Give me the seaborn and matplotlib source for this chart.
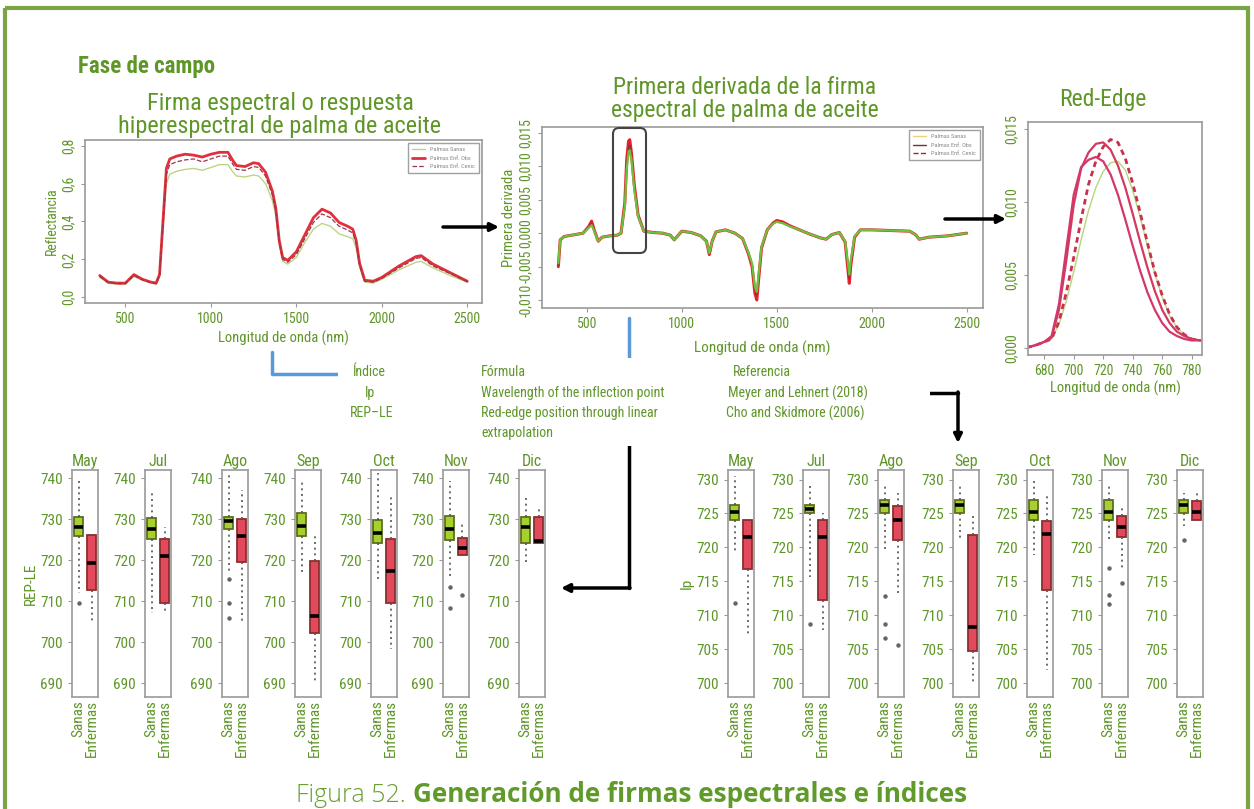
import matplotlib
matplotlib.use('Agg')
import matplotlib.pyplot as plt
from matplotlib import font_manager
from matplotlib.patches import FancyBboxPatch, Rectangle
from matplotlib.lines import Line2D
import seaborn as sns

# ---------------- data ----------------
# firma espectral (reflectancia)
wl = [350, 400, 450, 500, 550, 600, 650, 680, 700, 720, 740, 760, 800, 850, 900, 950, 1000,
      1050, 1100, 1130, 1150, 1200, 1250, 1280, 1320, 1360, 1380, 1400, 1420, 1450, 1500,
      1550, 1600, 1650, 1700, 1750, 1800, 1830, 1850, 1870, 1900, 1950, 2000, 2100, 2200,
      2230, 2300, 2400, 2500]
refl_sanas = [0.105, 0.075, 0.07, 0.07, 0.11, 0.09, 0.075, 0.07, 0.11, 0.36, 0.60, 0.65, 0.665,
              0.675, 0.68, 0.67, 0.685, 0.70, 0.70, 0.66, 0.64, 0.635, 0.645, 0.64, 0.60, 0.51,
              0.43, 0.28, 0.19, 0.175, 0.21, 0.29, 0.36, 0.39, 0.375, 0.335, 0.32, 0.31, 0.26,
              0.16, 0.08, 0.075, 0.095, 0.145, 0.185, 0.19, 0.155, 0.115, 0.08]
refl_obs = [0.115, 0.08, 0.075, 0.075, 0.12, 0.095, 0.08, 0.075, 0.12, 0.40, 0.68, 0.73, 0.745,
            0.755, 0.75, 0.74, 0.755, 0.765, 0.765, 0.72, 0.695, 0.69, 0.71, 0.705, 0.66, 0.56,
            0.47, 0.30, 0.21, 0.195, 0.24, 0.33, 0.42, 0.465, 0.445, 0.395, 0.375, 0.36, 0.30,
            0.18, 0.09, 0.085, 0.105, 0.165, 0.215, 0.22, 0.175, 0.13, 0.085]
refl_cenic = [0.11, 0.078, 0.072, 0.072, 0.115, 0.092, 0.078, 0.072, 0.115, 0.38, 0.65, 0.70,
              0.715, 0.725, 0.73, 0.715, 0.73, 0.745, 0.745, 0.70, 0.675, 0.67, 0.69, 0.685,
              0.64, 0.54, 0.455, 0.29, 0.20, 0.185, 0.225, 0.31, 0.395, 0.44, 0.42, 0.375, 0.355,
              0.34, 0.285, 0.17, 0.085, 0.08, 0.10, 0.155, 0.205, 0.21, 0.165, 0.125, 0.082]

# primera derivada
wl_d = [350, 360, 380, 420, 480, 510, 525, 540, 560, 580, 620, 660, 680, 700, 710, 720, 726, 735,
        750, 770, 800, 850, 900, 940, 960, 1000, 1050, 1100, 1130, 1145, 1160, 1180, 1230, 1280,
        1320, 1350, 1370, 1385, 1395, 1405, 1420, 1450, 1480, 1500, 1530, 1570, 1620, 1680,
        1730, 1760, 1790, 1830, 1860, 1875, 1882, 1890, 1910, 1940, 2000, 2100, 2200, 2230,
        2250, 2300, 2400, 2500]
der_sanas = [-0.0045, -0.0010, -0.0005, -0.0003, 0.0, 0.0008, 0.0012, 0.0003, -0.0012, -0.0006,
             -0.0004, -0.0003, 0.0, 0.0040, 0.0095, 0.0122, 0.0124, 0.0110, 0.0065, 0.0025,
             0.0003, 0.0001, 0.0, -0.0003, -0.0010, 0.0003, 0.0001, -0.0004, -0.0012, -0.0030,
             -0.0012, 0.0002, 0.0005, 0.0, -0.0008, -0.0028, -0.0045, -0.0080, -0.0088, -0.0060,
             -0.0020, 0.0005, 0.0014, 0.0017, 0.0015, 0.0010, 0.0005, -0.0002, -0.0007, -0.0009,
             -0.0002, 0.0001, -0.0012, -0.0045, -0.0062, -0.0040, -0.0005, 0.0005, 0.0005,
             0.0004, 0.0003, -0.0002, -0.0009, -0.0006, -0.0004, 0.0]
der_obs = [-0.0050, -0.0010, -0.0005, -0.0003, 0.0, 0.0010, 0.0018, 0.0004, -0.0012, -0.0006,
           -0.0004, -0.0003, 0.0, 0.0045, 0.0110, 0.0138, 0.0140, 0.0120, 0.0072, 0.0027,
           0.0003, 0.0001, 0.0, -0.0003, -0.0010, 0.0003, 0.0001, -0.0004, -0.0012, -0.0032,
           -0.0012, 0.0002, 0.0005, 0.0, -0.0008, -0.0030, -0.0050, -0.0090, -0.0100, -0.0068,
           -0.0022, 0.0005, 0.0015, 0.0019, 0.0017, 0.0011, 0.0005, -0.0002, -0.0007, -0.0009,
           -0.0002, 0.0001, -0.0013, -0.0055, -0.0075, -0.0048, -0.0006, 0.0005, 0.0005,
           0.0004, 0.0003, -0.0002, -0.0009, -0.0006, -0.0004, 0.0]
der_cenic = [-0.0048, -0.0010, -0.0005, -0.0003, 0.0, 0.0009, 0.0015, 0.0004, -0.0012, -0.0006,
             -0.0004, -0.0003, 0.0, 0.0042, 0.0102, 0.0130, 0.0134, 0.0118, 0.0070, 0.0026,
             0.0003, 0.0001, 0.0, -0.0003, -0.0010, 0.0003, 0.0001, -0.0004, -0.0012, -0.0031,
             -0.0012, 0.0002, 0.0005, 0.0, -0.0008, -0.0029, -0.0048, -0.0086, -0.0095, -0.0064,
             -0.0021, 0.0005, 0.0015, 0.0018, 0.0016, 0.0010, 0.0005, -0.0002, -0.0007, -0.0009,
             -0.0002, 0.0001, -0.0013, -0.0050, -0.0068, -0.0044, -0.0006, 0.0005, 0.0005,
             0.0004, 0.0003, -0.0002, -0.0009, -0.0006, -0.0004, 0.0]

# red-edge (zoom de la derivada)
wl_re = [668, 675, 680, 685, 690, 695, 700, 705, 710, 715, 720, 725, 730, 735, 740, 745, 750,
         755, 760, 765, 770, 775, 780, 786]
re_a = [0.0, 0.0002, 0.0004, 0.0008, 0.0030, 0.0068, 0.0105, 0.0124, 0.0129, 0.0131, 0.0128,
        0.0119, 0.0105, 0.0088, 0.0070, 0.0053, 0.0038, 0.0026, 0.0017, 0.0011, 0.0008, 0.0006,
        0.0005, 0.0005]
re_b = [0.0, 0.0002, 0.0004, 0.0007, 0.0026, 0.0060, 0.0098, 0.0123, 0.0134, 0.0140, 0.0141,
        0.0136, 0.0125, 0.0110, 0.0092, 0.0073, 0.0055, 0.0039, 0.0026, 0.0017, 0.0011, 0.0008,
        0.0006, 0.0005]
re_dash = [0.0, 0.0002, 0.0004, 0.0006, 0.0018, 0.0038, 0.0062, 0.0088, 0.0112, 0.0128, 0.0138,
           0.0143, 0.0141, 0.0130, 0.0113, 0.0093, 0.0072, 0.0052, 0.0036, 0.0023, 0.0014,
           0.0009, 0.0006, 0.0005]
re_sanas = [0.0, 0.0002, 0.0004, 0.0006, 0.0016, 0.0032, 0.0052, 0.0074, 0.0094, 0.0110, 0.0121,
            0.0127, 0.0128, 0.0122, 0.0108, 0.0090, 0.0070, 0.0051, 0.0035, 0.0022, 0.0014,
            0.0009, 0.0006, 0.0005]

# boxplots por mes: [bigote_inf, q1, mediana, q3, bigote_sup]
meses = ['May', 'Jul', 'Ago', 'Sep', 'Oct', 'Nov', 'Dic']
grupos = ['Sanas', 'Enfermas']
rep_sanas = [[712.0, 725.8, 728.0, 730.5, 739.6], [707.1, 725.1, 727.6, 730.2, 736.7],
             [717.0, 727.6, 729.6, 730.6, 740.8], [717.2, 725.9, 728.4, 731.5, 739.8],
             [715.2, 724.1, 726.7, 729.8, 741.2], [716.0, 725.0, 727.6, 730.8, 739.2],
             [719.3, 724.1, 728.0, 730.6, 735.1]]
rep_enf = [[704.6, 712.8, 719.3, 726.2, 726.5], [707.1, 709.6, 721.1, 725.1, 728.2],
           [705.0, 719.7, 725.8, 730.0, 737.2], [690.4, 702.4, 706.4, 719.9, 725.9],
           [698.3, 709.5, 717.5, 725.1, 735.5], [721.0, 721.3, 722.9, 725.4, 729.4],
           [724.1, 724.1, 724.7, 730.6, 732.5]]
rep_out_sanas = [[709.5], [], [715.5, 709.5, 706.0], [], [], [713.6, 708.3], []]
rep_out_enf = [[], [], [], [], [], [711.5], []]

ip_sanas = [[719.2, 724.1, 725.2, 726.3, 730.5], [715.7, 725.0, 725.6, 726.2, 729.3],
            [719.7, 725.0, 726.3, 727.0, 729.3], [721.1, 725.1, 726.2, 727.0, 729.0],
            [718.9, 724.1, 725.2, 727.0, 730.0], [721.1, 724.1, 725.2, 727.0, 729.0],
            [723.1, 725.0, 726.2, 727.0, 728.0]]
ip_enf = [[706.9, 716.8, 721.6, 724.1, 724.1], [707.9, 712.3, 721.6, 724.1, 725.0],
          [713.0, 721.1, 724.1, 726.1, 728.0], [699.8, 704.7, 708.3, 721.9, 725.0],
          [702.0, 713.8, 722.0, 723.9, 728.0], [717.0, 721.6, 723.0, 724.6, 726.1],
          [724.1, 724.1, 725.2, 726.9, 728.0]]
ip_out_sanas = [[711.8], [708.8], [712.9, 708.8, 706.7], [], [], [717.0, 713.0, 711.7], [721.1]]
ip_out_enf = [[], [], [705.6], [], [], [714.8], []]

# ---------------- style ----------------
sns.set_style('white')
avail = {f.name for f in font_manager.fontManager.ttflist}
COND = next((f for f in ['Roboto Condensed', 'Liberation Sans Narrow', 'Roboto'] if f in avail),
            'DejaVu Sans')
plt.rcParams['font.family'] = [COND, 'DejaVu Sans']
GREEN = '#5f9628'
GREY = '#9a9a9a'

W, H = 1254, 809
fig = plt.figure(figsize=(W / 100, H / 100), dpi=100)
fig.patch.set_facecolor('white')


def px_axes(l, t, r, b):
    return fig.add_axes([l / W, 1 - b / H, (r - l) / W, (b - t) / H])


def style_ax(ax, fs=10):
    for s in ax.spines.values():
        s.set_visible(True)
        s.set_color(GREY)
        s.set_linewidth(1.2)
    ax.tick_params(axis='both', colors=GREY, labelcolor=GREEN, labelsize=fs,
                   length=3, width=0.8, direction='out', bottom=True, left=True)


# ---- panel 1: firma espectral ----
ax1 = px_axes(85, 140, 482, 303)
sns.lineplot(x=wl, y=refl_sanas, ax=ax1, color='#bcd585', lw=1.0, label='Palmas Sanas')
sns.lineplot(x=wl, y=refl_obs, ax=ax1, color='#e0303c', lw=2.0, label='Palmas Enf. Obs')
sns.lineplot(x=wl, y=refl_cenic, ax=ax1, color='#a0344a', lw=0.9, linestyle='--',
             label='Palmas Enf. Cenic')
ax1.set_xlim(264, 2586)
ax1.set_ylim(-0.03, 0.83)
ax1.set_xticks([500, 1000, 1500, 2000, 2500])
ax1.set_yticks([0, 0.2, 0.4, 0.6, 0.8])
ax1.set_yticklabels(['0,0', '0,2', '0,4', '0,6', '0,8'], rotation=90, va='center')
style_ax(ax1)
ax1.set_xlabel('Longitud de onda (nm)', color=GREEN, fontsize=10.5, labelpad=3)
ax1.set_ylabel('Reflectancia', color=GREEN, fontsize=10, labelpad=2)
ax1.legend(loc='upper right', fontsize=4.5, frameon=True, fancybox=False, edgecolor='#888',
           handlelength=2.2, labelcolor='#888', borderpad=0.6)

# ---- panel 2: primera derivada ----
ax2 = px_axes(542, 127, 983, 308)
sns.lineplot(x=wl_d, y=der_obs, ax=ax2, color='#e8202c', lw=2.2, label='Palmas Enf. Obs')
sns.lineplot(x=wl_d, y=der_cenic, ax=ax2, color='#9c2a3a', lw=1.0, linestyle='--',
             label='Palmas Enf. Cenic')
sns.lineplot(x=wl_d, y=der_sanas, ax=ax2, color='#6cc23e', lw=1.6, label='Palmas Sanas')
ax2.set_xlim(264, 2586)
ax2.set_ylim(-0.0112, 0.0159)
ax2.set_xticks([500, 1000, 1500, 2000, 2500])
ax2.set_yticks([-0.010, -0.005, 0.0, 0.005, 0.010, 0.015])
ax2.set_yticklabels(['-0,010', '-0,005', '0,000', '0,005', '0,010', '0,015'], rotation=90,
                    va='center')
style_ax(ax2)
ax2.set_xlabel('Longitud de onda (nm)', color=GREEN, fontsize=11, labelpad=7)
ax2.set_ylabel('Primera derivada', color=GREEN, fontsize=10.5, labelpad=2)
h = [Line2D([], [], color='#e8d27a', lw=1), Line2D([], [], color='#7a2a3a', lw=1),
     Line2D([], [], color='#9c2a3a', lw=1, ls='--')]
ax2.legend(h, ['Palmas Sanas', 'Palmas Enf. Obs', 'Palmas Enf. Cenic'], loc='upper right',
           fontsize=4.5, frameon=True, fancybox=False, edgecolor='#888', handlelength=2.2,
           labelcolor='#888', borderpad=0.6)

# ---- panel 3: red-edge ----
ax3 = px_axes(1028, 122, 1202, 355)
sns.lineplot(x=wl_re, y=re_sanas, ax=ax3, color='#b5d67a', lw=1.0)
sns.lineplot(x=wl_re, y=re_dash, ax=ax3, color='#c8304c', lw=2.0, linestyle=(0, (2, 1.5)))
sns.lineplot(x=wl_re, y=re_b, ax=ax3, color='#d23a5e', lw=1.6)
sns.lineplot(x=wl_re, y=re_a, ax=ax3, color='#d2386a', lw=1.6)
ax3.set_xlim(669, 787)
ax3.set_ylim(-0.0005, 0.0155)
ax3.set_xticks([680, 700, 720, 740, 760, 780])
ax3.set_yticks([0.0, 0.005, 0.010, 0.015])
ax3.set_yticklabels(['0,000', '0,005', '0,010', '0,015'], rotation=90, va='center')
style_ax(ax3)
ax3.set_xlabel('Longitud de onda (nm)', color=GREEN, fontsize=10.5, labelpad=2)


# ---- boxplots ----
def box_panel(left, mes, s_stats, e_stats, s_out, e_out, ylim, yticks, first_label):
    ax = px_axes(left, 470, left + 26, 697)
    stats = []
    for st, out, g in [(s_stats, s_out, 'Sanas'), (e_stats, e_out, 'Enfermas')]:
        stats.append(dict(whislo=st[0], q1=st[1], med=st[2], q3=st[3], whishi=st[4],
                          fliers=out, label=g))
    bp = ax.bxp(stats, positions=[1, 2], widths=0.62, patch_artist=True, showcaps=False,
                whiskerprops=dict(color='#555', lw=1.2, ls=(0, (1.2, 2.2))),
                medianprops=dict(color='black', lw=2.6),
                flierprops=dict(marker='o', markersize=2.2, markerfacecolor='#666',
                                markeredgecolor='#666'))
    bp['boxes'][0].set(facecolor='#a6d12c', edgecolor='#5f6e22', lw=1.3)
    bp['boxes'][1].set(facecolor='#e2495c', edgecolor='#8e2d2d', lw=1.3)
    ax.set_xlim(0.5, 2.5)
    ax.set_ylim(*ylim)
    ax.set_yticks(yticks)
    ax.set_xticks([1, 2])
    ax.set_xticklabels(grupos, rotation=90, va='top', ha='center')
    style_ax(ax, fs=11)
    ax.tick_params(axis='x', length=0, pad=2)
    ax.set_title(mes, color=GREEN, fontsize=11.5, pad=3)
    if first_label:
        ax.set_ylabel(first_label, color=GREEN, fontsize=11, labelpad=2)
    return ax


lefts_rep = [72, 145, 222, 295, 371, 443, 519]
lefts_ip = [728, 803, 878, 953, 1027, 1102, 1177]
for i, mes in enumerate(meses):
    box_panel(lefts_rep[i], mes, rep_sanas[i], rep_enf[i], rep_out_sanas[i], rep_out_enf[i],
              (686.7, 742), [690, 700, 710, 720, 730, 740], 'REP-LE' if i == 0 else None)
    box_panel(lefts_ip[i], mes, ip_sanas[i], ip_enf[i], ip_out_sanas[i], ip_out_enf[i],
              (698.0, 731.4), [700, 705, 710, 715, 720, 725, 730], 'Ip' if i == 0 else None)

# ---------------- overlay: titles, arrows, table, caption ----------------
ov = fig.add_axes([0, 0, 1, 1], zorder=10)
ov.set_xlim(0, W)
ov.set_ylim(H, 0)
ov.axis('off')
ov.patch.set_alpha(0)

ov.add_patch(Rectangle((5, 8), 1243, 840, fill=False, ec='#7ba446', lw=3))
ov.text(78, 66, 'Fase de campo', color=GREEN, fontsize=16.5, fontweight='bold', va='center')
ov.text(280, 115, 'Firma espectral o respuesta\nhiperespectral de palma de aceite',
        color=GREEN, fontsize=17.5, ha='center', va='center', linespacing=0.95)
ov.text(745, 99, 'Primera derivada de la firma\nespectral de palma de aceite',
        color=GREEN, fontsize=17, ha='center', va='center', linespacing=0.95)
ov.text(1103, 99, 'Red-Edge', color=GREEN, fontsize=17, ha='center', va='center')

arrow = dict(arrowstyle='-|>', color='black', lw=2.5, mutation_scale=12, shrinkA=0, shrinkB=0)
ov.annotate('', xy=(499, 227), xytext=(443, 227), arrowprops=arrow)
ov.annotate('', xy=(1006, 219), xytext=(945, 219), arrowprops=arrow)
BLUE = '#5b9bd5'
ov.plot([629, 629], [318, 362], color=BLUE, lw=2.5, zorder=1)
ov.plot([272, 272, 340], [352, 374, 374], color=BLUE, lw=2.5, zorder=1)
ov.plot([629, 629], [445, 588], color='black', lw=2.5, zorder=1)
ov.annotate('', xy=(561, 588), xytext=(630, 588), arrowprops=arrow)
ov.plot([925, 958], [393, 393], color='black', lw=2.5, zorder=1)
ov.annotate('', xy=(958, 443), xytext=(958, 392), arrowprops=arrow)

# white table
ov.add_patch(Rectangle((338, 358), 592, 88, fc='white', ec='none', zorder=2))
tkw = dict(color=GREEN, fontsize=10, va='center', zorder=3)
ov.text(353, 372, 'Índice', **tkw)
ov.text(481, 372, 'Fórmula', **tkw)
ov.text(733, 372, 'Referencia', **tkw)
ov.text(365, 393, 'Ip', **tkw)
ov.text(481, 393, 'Wavelength of the inflection point', **tkw)
ov.text(728, 393, 'Meyer and Lehnert (2018)', **tkw)
ov.text(350, 413, 'REP–LE', **tkw)
ov.text(481, 413, 'Red-edge position through linear', **tkw)
ov.text(726, 413, 'Cho and Skidmore (2006)', **tkw)
ov.text(481, 433, 'extrapolation', **tkw)

# rounded box around the red-edge peak
ov.add_patch(FancyBboxPatch((614, 129), 31, 123, boxstyle='round,pad=1,rounding_size=6',
                            fill=False, ec='#444', lw=1.5))

# caption
CAP = ['Open Sans', 'DejaVu Sans']
ov.text(406, 795, 'Figura 52.', color='#6aa032', fontsize=18, ha='right', va='center',
        family=CAP, fontweight='light')
ov.text(413, 795, 'Generación de firmas espectrales e índices', color='#5f9a2a',
        fontsize=18.8, ha='left', va='center', family=CAP, fontweight='bold')

fig.savefig('out.png', dpi=100, facecolor='white')
